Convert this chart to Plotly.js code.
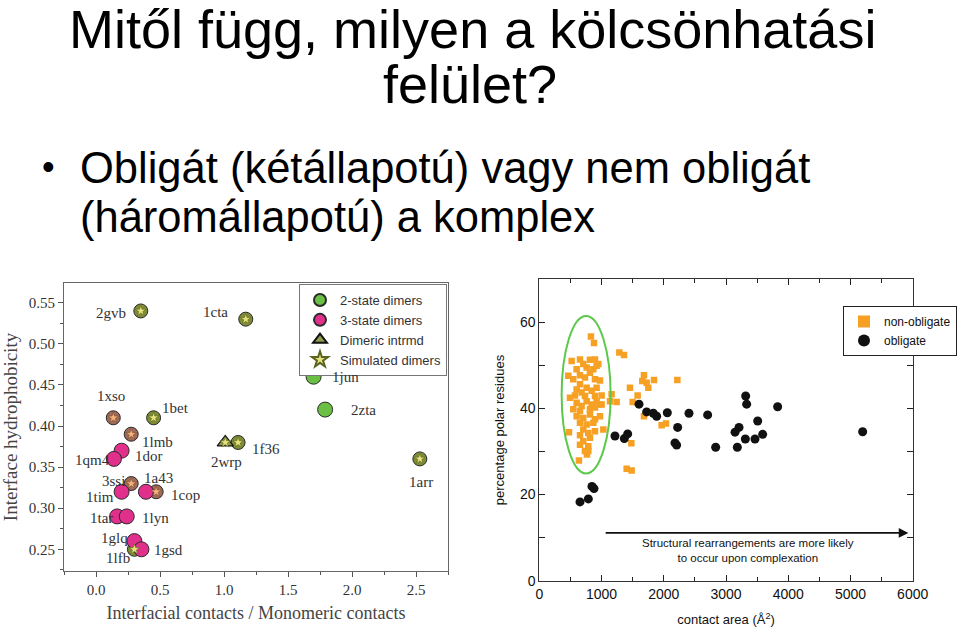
<!DOCTYPE html>
<html>
<head>
<meta charset="utf-8">
<script src="https://cdn.plot.ly/plotly-3.0.1.min.js"></script>
<style>html,body{margin:0;padding:0;background:#fff;}#chart{width:960px;height:632px;}</style>
</head>
<body>
<div id="chart"></div>
<script>
// ---------- Left panel data: dimers ----------
const dimerNames = ['2gvb','1cta','1jun','2zta','1xso','1bet','1lmb','1dor','1qm4','2wrp','1f36','1arr','3ssi','1a43','1tim','1cop','1tar','1lyn','1glq','1gsd','1lfb'];
const contactRatio = [0.35,1.17,1.70,1.79,0.135,0.45,0.275,0.20,0.14,1.01,1.11,2.53,0.275,0.39,0.20,0.47,0.165,0.24,0.30,0.355,0.30];
const hydrophobicity = [0.54,0.53,0.46,0.42,0.41,0.41,0.39,0.37,0.36,0.38,0.38,0.36,0.33,0.32,0.32,0.32,0.29,0.29,0.26,0.25,0.25];
const dimerState = ['2','2','2','2','3','2','3','3','3','int','2','2','3','3','3','3','3','3','3','3','2'];
const simulated = [1,1,0,0,1,1,1,0,0,1,1,1,1,0,0,1,0,0,0,0,1];
const leftXTicks = [0.0,0.5,1.0,1.5,2.0,2.5];
const leftYTicks = [0.25,0.30,0.35,0.40,0.45,0.50,0.55];

// ---------- Right panel data: obligate vs non-obligate ----------
const obligateArea = [654,788,846,879,1216,1366,1420,1602,1725,1832,1886,2057,2223,2180,2207,2405,2705,2834,3145,3209,3182,3316,3332,3311,3466,3509,3589,3830,5196];
const obligatePolar = [18.3,19.0,21.9,21.4,33.6,33.0,34.1,41.0,39.2,38.9,38.2,39.0,35.6,32.0,31.5,38.9,38.5,31.0,34.5,35.6,31.0,42.9,41.0,32.9,32.9,37.1,34.0,40.4,34.6];
const nonObligateArea = [830,879,1286,1361,1457,1580,1500,1243,1162,1136,1682,1655,1725,1752,1843,2218,1682,1966,2036,1479,1404,1484,477,637,766,788,1029,975,975,
  520,654,707,814,895,948,600,761,868,921,466,546,654,734,814,895,654,600,680,761,841,921,493,573,734,895,1002,600,680,761,841,921,1002,546,654,814,895,600,707,814,895,654,761,868,975,707,787,895,654,814,707,787,734,654];
const nonObligatePolar = [56.7,55.2,53.0,52.4,44.8,43.0,41.5,41.5,43.3,41.7,47.7,46.4,46.0,44.8,46.6,46.6,38.2,36.1,36.5,31.9,26.0,25.6,34.5,27.9,29.3,30.1,35.1,40.9,46.5,
  51.0,51.4,50.3,51.3,51.4,50.3,49.1,49.5,49.1,49.9,47.6,46.8,47.7,47.2,48.3,46.8,45.6,44.4,43.7,44.8,44.1,44.8,42.5,43.0,42.9,42.9,43.0,41.3,40.6,41.7,40.9,41.7,40.9,39.8,39.4,39.8,40.2,38.2,37.8,38.6,37.5,36.7,36.3,36.7,38.2,35.1,34.3,34.7,33.8,33.2,32.4,31.2,30.1,31.6];
const ellipseArea = [359,1146];
const ellipsePolar = [24.9,61.5];
const arrowArea = [1018,5930];
const arrowPolar = 11.1;

// ---------- Styling (label offsets in px) ----------
const labelDx = [-30,-30,32,38,-2,22,26,27,-21,1,28,1,-18,13,-22,29,-16,29,-20,27,-16];
const labelDy = [2,-7,0,0,-22,-10,8,5,1,20,7,23,-3,-14,5,3,2,2,-3,1,9];

function pick(arr, cond){ return arr.filter((v,i)=>cond(i)); }
const isSim2 = i => simulated[i] && dimerState[i]==='2';
const isSim3 = i => simulated[i] && dimerState[i]==='3';
const isPlain2 = i => !simulated[i] && dimerState[i]==='2';
const isPlain3 = i => !simulated[i] && dimerState[i]==='3';
const isInt = i => dimerState[i]==='int';
const isSimNot3 = i => simulated[i] && dimerState[i]!=='3';

const serif = 'Liberation Serif, Times New Roman, serif';
const sans = 'Liberation Sans, Arial, sans-serif';
const outline = {color:'#2a2a2a', width:1};

const traces = [
  {type:'scatter', mode:'markers', x:pick(contactRatio,isSim2), y:pick(hydrophobicity,isSim2), xaxis:'x', yaxis:'y',
   marker:{size:14, color:'#7f8c36', line:outline}, showlegend:false, hoverinfo:'skip'},
  {type:'scatter', mode:'markers', x:pick(contactRatio,isSim3), y:pick(hydrophobicity,isSim3), xaxis:'x', yaxis:'y',
   marker:{size:14, color:'#a06a58', line:outline}, showlegend:false, hoverinfo:'skip'},
  {type:'scatter', mode:'markers', name:'2-state dimers', x:pick(contactRatio,isPlain2), y:pick(hydrophobicity,isPlain2), xaxis:'x', yaxis:'y',
   marker:{size:15, color:'#6cbf45', line:outline}, legend:'legend'},
  {type:'scatter', mode:'markers', name:'3-state dimers', x:pick(contactRatio,isPlain3), y:pick(hydrophobicity,isPlain3), xaxis:'x', yaxis:'y',
   marker:{size:15, color:'#e0308c', line:outline}, legend:'legend'},
  {type:'scatter', mode:'markers', name:'Dimeric intrmd', x:pick(contactRatio,isInt), y:pick(hydrophobicity,isInt), xaxis:'x', yaxis:'y',
   marker:{size:14, symbol:'triangle-up', color:'#8f9a4e', line:{color:'#111', width:1.2}}, legend:'legend'},
  {type:'scatter', mode:'markers', name:'Simulated dimers', x:pick(contactRatio,isSimNot3), y:pick(hydrophobicity,isSimNot3), xaxis:'x', yaxis:'y',
   marker:{size:8, symbol:'star', color:'#e6e27a', line:{color:'#5a6420', width:0.6}}, legend:'legend'},
  {type:'scatter', mode:'markers', x:pick(contactRatio,isSim3), y:pick(hydrophobicity,isSim3), xaxis:'x', yaxis:'y',
   marker:{size:8, symbol:'star', color:'#f2b27a', line:{color:'#7a4a30', width:0.6}}, showlegend:false, hoverinfo:'skip'},
  // right panel
  {type:'scatter', mode:'markers', name:'non-obligate', x:nonObligateArea, y:nonObligatePolar, xaxis:'x2', yaxis:'y2',
   marker:{size:6.5, symbol:'square', color:'#f6a024'}, legend:'legend2'},
  {type:'scatter', mode:'markers', name:'obligate', x:obligateArea, y:obligatePolar, xaxis:'x2', yaxis:'y2',
   marker:{size:9, color:'#111111'}, legend:'legend2'}
];

const annotations = dimerNames.map((n,i)=>({
  xref:'x', yref:'y', x:contactRatio[i], y:hydrophobicity[i], text:n, showarrow:false,
  xshift:labelDx[i], yshift:-labelDy[i], font:{family:serif, size:15, color:'#333'}
}));

const slideFont = 'Liberation Sans, Arial, sans-serif';
annotations.push(
  {xref:'paper', yref:'paper', x:472/960, y:1-29/632, text:'Mitől függ, milyen a kölcsönhatási', showarrow:false, xanchor:'center', yanchor:'middle',
   font:{family:slideFont, size:54, color:'#000'}},
  {xref:'paper', yref:'paper', x:470/960, y:1-84/632, text:'felület?', showarrow:false, xanchor:'center', yanchor:'middle',
   font:{family:slideFont, size:54, color:'#000'}},
  {xref:'paper', yref:'paper', x:40/960, y:1-166/632, text:'•', showarrow:false, xanchor:'left', yanchor:'middle',
   font:{family:slideFont, size:36, color:'#000'}},
  {xref:'paper', yref:'paper', x:78/960, y:1-168/632, text:'Obligát (kétállapotú) vagy nem obligát', showarrow:false, xanchor:'left', yanchor:'middle',
   font:{family:slideFont, size:43.5, color:'#000'}},
  {xref:'paper', yref:'paper', x:78/960, y:1-217/632, text:'(háromállapotú) a komplex', showarrow:false, xanchor:'left', yanchor:'middle',
   font:{family:slideFont, size:43.5, color:'#000'}}
);

annotations.push(
  {xref:'x2', yref:'y2', axref:'x2', ayref:'y2', x:arrowArea[1], y:arrowPolar, ax:arrowArea[0], ay:arrowPolar, text:' ', showarrow:true,
   arrowhead:2, arrowsize:1.2, arrowwidth:1.6, arrowcolor:'#111', standoff:0, startstandoff:0},
  {xref:'x2', yref:'y2', x:3354, y:7.0, text:'Structural rearrangements are more likely<br>to occur upon complexation', showarrow:false,
   align:'center', font:{family:sans, size:11.5, color:'#111'}}
);

const leftTickFont = {family:serif, size:15, color:'#333'};
const rightTickFont = {family:sans, size:14, color:'#111'};

const layout = {
  width:960, height:632, margin:{l:0,r:0,t:0,b:0}, paper_bgcolor:'#fff', plot_bgcolor:'#fff',
  showlegend:true,
  xaxis:{domain:[64/960,448/960], anchor:'y', range:[-0.25,2.75], tickvals:leftXTicks, tickformat:'.1f',
    ticks:'outside', ticklen:5, tickcolor:'#555', showline:true, linecolor:'#666', linewidth:1, mirror:true,
    showgrid:false, zeroline:false, tickfont:leftTickFont,
    minor:{dtick:0.25, tick0:0, ticks:'outside', ticklen:3, tickcolor:'#555'},
    title:{text:'Interfacial contacts / Monomeric contacts', font:{family:serif, size:18, color:'#444'}, standoff:9}},
  yaxis:{domain:[(632-571)/632,(632-283)/632], anchor:'x', range:[0.2236,0.574], tickvals:leftYTicks, tickformat:'.2f',
    ticks:'outside', ticklen:5, tickcolor:'#555', showline:true, linecolor:'#666', linewidth:1, mirror:true,
    showgrid:false, zeroline:false, tickfont:leftTickFont,
    minor:{dtick:0.025, tick0:0.25, ticks:'outside', ticklen:3, tickcolor:'#555'},
    title:{text:'Interface hydrophobicity', font:{family:serif, size:19, color:'#444'}, standoff:10}},
  xaxis2:{domain:[539.3/960,912.7/960], anchor:'y2', range:[0,6000], dtick:1000, tick0:0,
    ticks:'inside', ticklen:6, tickcolor:'#222', showline:true, linecolor:'#333', linewidth:1, mirror:'allticks',
    showgrid:false, zeroline:false, tickfont:rightTickFont,
    minor:{dtick:500, tick0:0, ticks:'inside', ticklen:4, tickcolor:'#222'},
    title:{text:'contact area (Å<sup>2</sup>)', font:{family:sans, size:13, color:'#111'}, standoff:14}},
  yaxis2:{domain:[(632-580.7)/632,(632-279.3)/632], anchor:'x2', range:[0,70], dtick:20, tick0:0,
    ticks:'inside', ticklen:6, tickcolor:'#222', showline:true, linecolor:'#333', linewidth:1, mirror:'allticks',
    showgrid:false, zeroline:false, tickfont:rightTickFont,
    minor:{dtick:10, tick0:0, ticks:'inside', ticklen:6, tickcolor:'#222'},
    title:{text:'percentage polar residues', font:{family:sans, size:13, color:'#111'}, standoff:12}},
  legend:{x:447/960, y:1-284/632, xanchor:'right', yanchor:'top', bgcolor:'#fff', bordercolor:'#777', borderwidth:1,
    font:{family:sans, size:13, color:'#333'}, tracegroupgap:0, itemsizing:'constant'},
  legend2:{x:957/960, y:1-306/632, xanchor:'right', yanchor:'top', bgcolor:'#fff', bordercolor:'#222', borderwidth:1,
    font:{family:sans, size:12, color:'#111'}, itemsizing:'constant'},
  shapes:[{type:'circle', xref:'x2', yref:'y2', x0:ellipseArea[0], x1:ellipseArea[1], y0:ellipsePolar[0], y1:ellipsePolar[1],
    line:{color:'#5cc94a', width:2}, fillcolor:'rgba(0,0,0,0)'}],
  annotations:annotations
};

Plotly.newPlot('chart', traces, layout, {staticPlot:true, displayModeBar:false});
</script>
</body>
</html>
